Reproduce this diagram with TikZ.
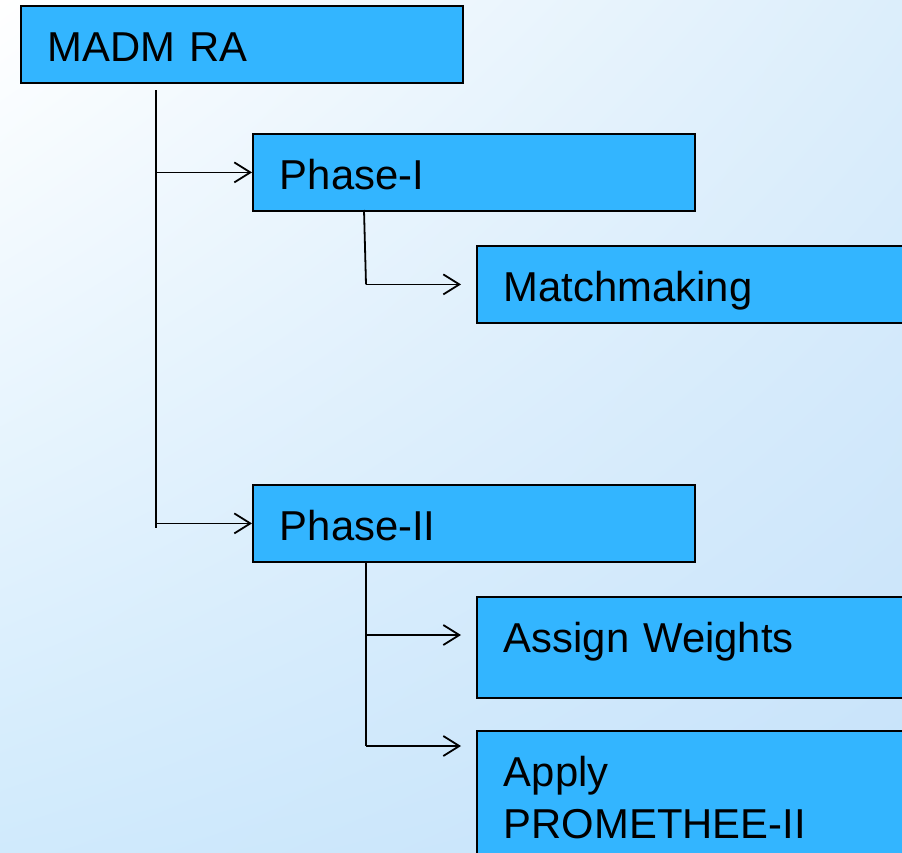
\documentclass[tikz,border=0pt]{standalone}
\usepackage{fontspec}
\setmainfont{Liberation Sans}
\usetikzlibrary{arrows.meta, positioning, shadings}
\definecolor{boxblue}{HTML}{33B5FF}
\definecolor{bgtr}{HTML}{DCEEFB}
\definecolor{bgbl}{HTML}{D0EAFC}
\definecolor{bgbr}{HTML}{C6E2FA}
\tikzset{%
phase box/.style={
    rectangle, draw=black, fill=boxblue, line width=1.8pt,
    anchor=north west,
    text width=388pt, align=left,
    inner xsep=27pt, inner ysep=0pt,
    text height=56pt, text depth=#1,
    font=\fontsize{41.8}{52}\selectfont
  },
  phase box/.default=21pt,
  conn/.style={line width=1.8pt, draw=black},
  conn arrow/.style={conn, -{Straight Barb[length=16pt,width=20pt,line width=1.8pt]}}
}
\begin{document}
\begin{tikzpicture}[x=1pt, y=-1pt]
\useasboundingbox (0,0) rectangle (902,852);
\clip (0,0) rectangle (902,852);
\shade[upper left=white, upper right=bgtr, lower left=bgbl, lower right=bgbr]
    (0,0) rectangle (902,852);

\node[phase box] (madm) at (20,5) {MADM RA};
\node[phase box] (ph1) at (252,133) {Phase-I};
\node[phase box] (match) at (476,245) {Matchmaking};
\node[phase box] (ph2) at (252,484) {Phase-II};
\node[phase box=45pt] (weights) at (476,596) {Assign Weights};
\node[phase box=150pt] (prom) at (476,730) {Apply\\PROMETHEE-II};

% main trunk
\coordinate (trunktop) at (156,90);
\coordinate (trunkbot) at (156,528);
\draw[conn] (trunktop) -- (trunkbot);
\draw[conn arrow] (trunktop |- ph1.west) -- (ph1.west);
\draw[conn arrow] (trunktop |- ph2.west) -- (ph2.west);

% phase I
\coordinate (ph1out) at (364,210);
\coordinate (ph1bend) at (366,0);
\draw[conn] (ph1out) -- (ph1bend |- match.west);
\draw[conn arrow, shorten >=15pt] (ph1bend |- match.west) -- (match.west);

% phase II
\coordinate (ph2out) at (366,561);
\coordinate (weightsin) at ([yshift=-39pt]weights.north west);
\coordinate (promin) at ([yshift=-16pt]prom.north west);
\draw[conn] (ph2out) -- (ph2out |- promin);
\draw[conn arrow, shorten >=15pt] (ph2out |- weightsin) -- (weightsin);
\draw[conn arrow, shorten >=15pt] (ph2out |- promin) -- (promin);
\end{tikzpicture}
\end{document}
